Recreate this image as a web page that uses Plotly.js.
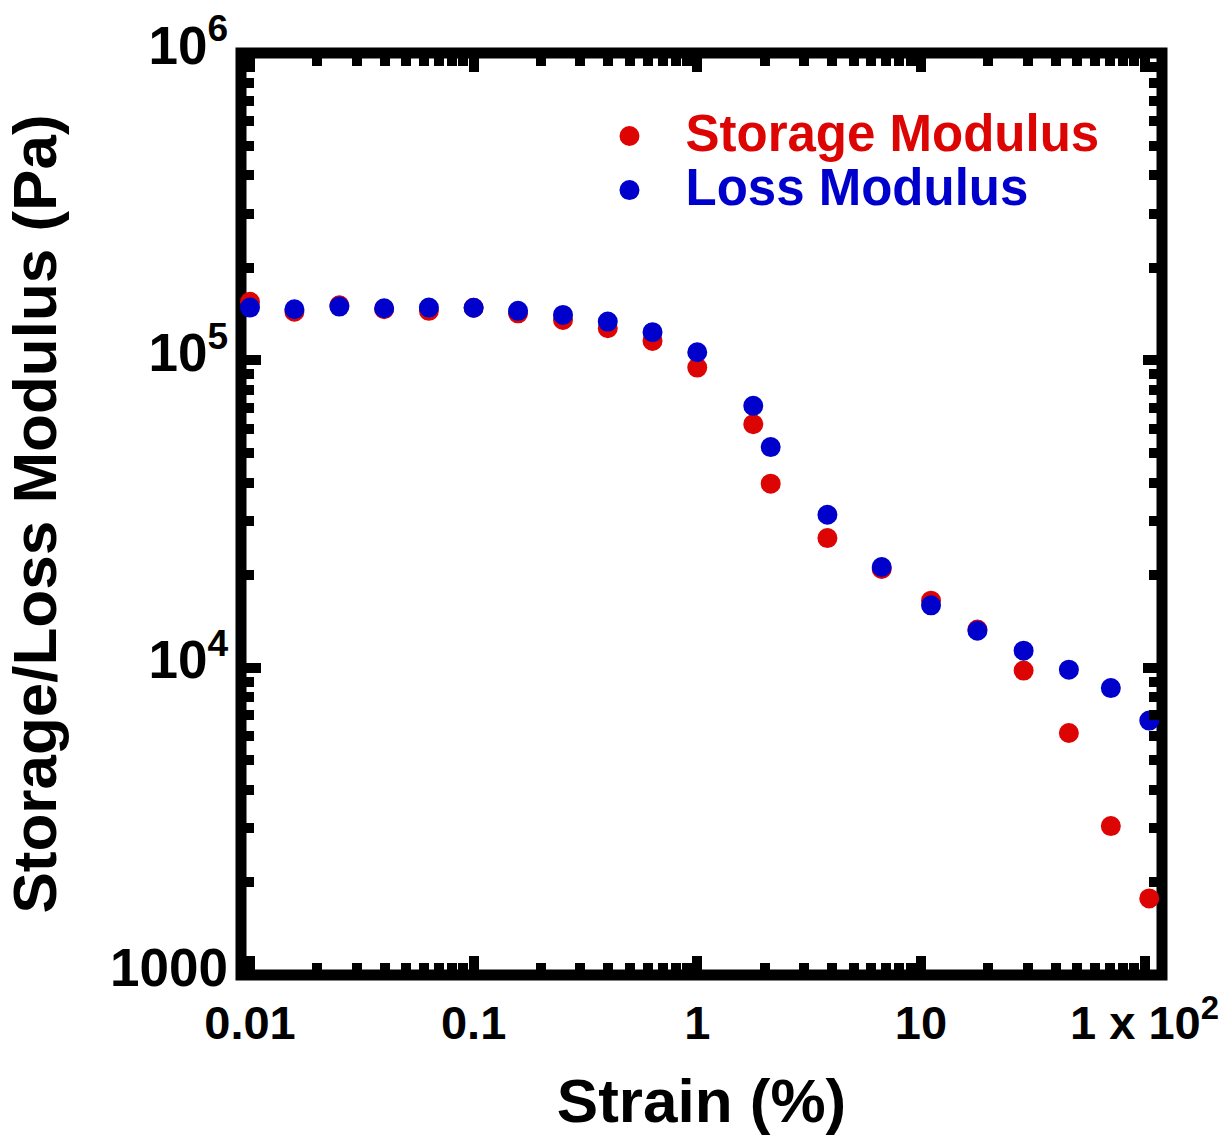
<!DOCTYPE html>
<html>
<head>
<meta charset="utf-8">
<script src="https://cdn.plot.ly/plotly-3.0.1.min.js"></script>
<style>
  html, body { margin: 0; padding: 0; background: #ffffff; }
  #chart { width: 1231px; height: 1141px; }
</style>
</head>
<body>
<div id="chart"></div>
<script>
// Amplitude sweep: storage and loss modulus against strain
const strain = [0.01, 0.0158, 0.0251, 0.0398, 0.0631, 0.1, 0.158, 0.251, 0.398, 0.631, 1.0,
                1.78, 2.13, 3.82, 6.68, 11.1, 17.9, 28.8, 45.9, 70.7, 105];
const storageModulus = [155000, 144000, 151000, 146600, 144900, 148300, 142200, 135400, 127300, 115700, 94700,
                        62000, 39700, 26400, 20940, 16520, 13300, 9780, 6130, 3050, 1774];
const lossModulus = [148500, 146600, 149600, 147800, 148500, 148300, 144900, 140600, 133700, 123500, 106300,
                     71100, 52200, 31450, 21260, 15950, 13190, 11360, 9850, 8580, 6725];

// Axis ticks
const xMajorVals = [0.01, 0.1, 1, 10, 100];
const xMajorText = ['0.01', '0.1', '1', '10', '1 x 10<sup>2</sup>'];
const xMinorVals = [0.02, 0.03, 0.04, 0.05, 0.06, 0.07, 0.08, 0.09,
                    0.2, 0.3, 0.4, 0.5, 0.6, 0.7, 0.8, 0.9,
                    2, 3, 4, 5, 6, 7, 8, 9,
                    20, 30, 40, 50, 60, 70, 80, 90];
const yMajorVals = [1000, 10000, 100000, 1000000];
const yMajorText = ['1000', '10<sup>4</sup>', '10<sup>5</sup>', '10<sup>6</sup>'];
const yMinorVals = [2000, 3000, 4000, 5000, 6000, 7000, 8000, 9000,
                    20000, 30000, 40000, 50000, 60000, 70000, 80000, 90000,
                    200000, 300000, 400000, 500000, 600000, 700000, 800000, 900000];

const RED = '#DD0404';
const BLUE = '#0000CC';
const FONT = 'Liberation Sans, Arial, Helvetica, sans-serif';

const xRange = [-2.0402, 2.0782];
const yRange = [2.9998, 6.0002];

const traces = [
  {
    x: strain, y: storageModulus, type: 'scatter', mode: 'markers',
    name: '<span style="font-size:51px;fill:' + RED + '">Storage Modulus</span>',
    marker: { color: RED, size: 16, line: { color: RED, width: 4 } },
    cliponaxis: false
  },
  {
    x: strain, y: lossModulus, type: 'scatter', mode: 'markers',
    name: '<span style="font-size:51px;fill:' + BLUE + '">Loss Modulus</span>',
    marker: { color: BLUE, size: 16, line: { color: BLUE, width: 4 } },
    cliponaxis: false
  },
  // carries the minor-tick axes
  { x: [], y: [], type: 'scatter', mode: 'markers', xaxis: 'x2', yaxis: 'y2',
    showlegend: false, hoverinfo: 'skip' }
];

const tickFontX = { family: FONT, size: 47, color: '#000', weight: 'bold' };
const tickFontY = { family: FONT, size: 53, color: '#000', weight: 'bold' };
const titleFont = { family: FONT, size: 62, color: '#000', weight: 'bold' };

const layout = {
  width: 1231, height: 1141,
  margin: { l: 241, r: 68.5, t: 52.5, b: 165.5, pad: 0 },
  paper_bgcolor: '#ffffff', plot_bgcolor: '#ffffff',
  showlegend: true,
  legend: {
    x: 0.361, y: 0.9447, xanchor: 'left', yanchor: 'top',
    bgcolor: 'rgba(0,0,0,0)', borderwidth: 0,
    font: { family: FONT, size: 39.3, color: '#000', weight: 'bold' },
    itemwidth: 102, tracegroupgap: 0
  },
  // plot frame
  shapes: [{
    type: 'rect', xref: 'paper', yref: 'paper', x0: 0, x1: 1, y0: 0, y1: 1,
    line: { color: '#000', width: 11 }, fillcolor: 'rgba(0,0,0,0)', layer: 'below'
  }],
  xaxis: {
    type: 'log', range: xRange, automargin: false,
    tickmode: 'array', tickvals: xMajorVals, ticktext: xMajorText,
    ticks: 'inside', ticklen: 19, tickwidth: 10, tickcolor: '#000',
    showline: false, mirror: 'ticks',
    showgrid: false, zeroline: false,
    tickfont: tickFontX, ticklabelstandoff: 16,
    title: { text: 'Strain (%)', font: titleFont, standoff: 30 }
  },
  xaxis2: {
    type: 'log', range: xRange, overlaying: 'x', anchor: 'y2', automargin: false,
    tickmode: 'array', tickvals: xMinorVals, showticklabels: false,
    ticks: 'inside', ticklen: 12.5, tickwidth: 10, tickcolor: '#000',
    showline: false, mirror: 'ticks', showgrid: false, zeroline: false
  },
  yaxis: {
    type: 'log', range: yRange, automargin: false,
    tickmode: 'array', tickvals: yMajorVals, ticktext: yMajorText,
    ticks: 'inside', ticklen: 19.5, tickwidth: 10, tickcolor: '#000',
    showline: false, mirror: 'ticks',
    showgrid: false, zeroline: false,
    tickfont: tickFontY, ticklabelstandoff: 12, ticklabelshift: -8,
    title: { text: 'Storage/Loss Modulus (Pa)', font: titleFont, standoff: 38 }
  },
  yaxis2: {
    type: 'log', range: yRange, overlaying: 'y', anchor: 'x2', automargin: false,
    tickmode: 'array', tickvals: yMinorVals, showticklabels: false,
    ticks: 'inside', ticklen: 13, tickwidth: 10, tickcolor: '#000',
    showline: false, mirror: 'ticks', showgrid: false, zeroline: false
  }
};

Plotly.newPlot('chart', traces, layout, { displayModeBar: false, staticPlot: true });
</script>
</body>
</html>
